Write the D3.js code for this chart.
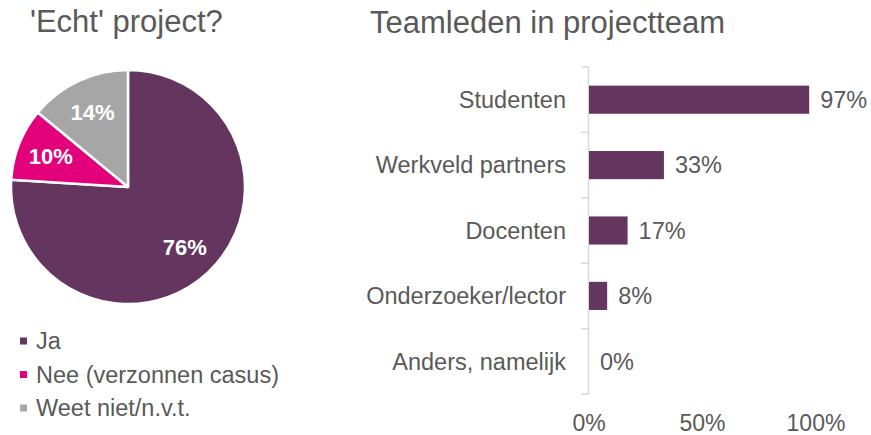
<!DOCTYPE html>
<html>
<head>
<meta charset="utf-8">
<script src="https://cdn.jsdelivr.net/npm/d3@7"></script>
<style>
  body { margin: 0; background: #fff; }
  svg { font-family: "Liberation Sans", Arial, sans-serif; }
</style>
</head>
<body>
<div id="container"></div>
<script>
const TEXT_COLOR = '#595959'
const PURPLE = '#64365f'

// pie: 'Echt' project?
const pieLabels = ['Ja', 'Nee (verzonnen casus)', 'Weet niet/n.v.t.']
const pieValues = [76, 10, 14]
const pieColors = [PURPLE, '#e3007b', '#a6a6a6']

// bars: Teamleden in projectteam
const barCategories = ['Studenten', 'Werkveld partners', 'Docenten', 'Onderzoeker/lector', 'Anders, namelijk']
const barValues = [97, 33, 17, 8, 0]
const xTicks = [0, 50, 100]

var width = 871
var height = 435

var svg = d3.select('#container').append('svg')
    .attr('width', width)
    .attr('height', height)

// ---- titles
svg.append('text')
    .attr('x', 30).attr('y', 32)
    .attr('fill', TEXT_COLOR)
    .style('font-size', '31px')
    .text("'Echt' project?")

svg.append('text')
    .attr('x', 370).attr('y', 33)
    .attr('fill', TEXT_COLOR)
    .style('font-size', '31px')
    .text('Teamleden in projectteam')

// ---- pie
var radius = 117
var pieG = svg.append('g').attr('transform', 'translate(128,187)')

var pie = d3.pie().sort(null).value(d => d)
var arcs = pie(pieValues)
var arc = d3.arc().innerRadius(0).outerRadius(radius)
var labelArc = d3.arc().innerRadius(radius * 0.71).outerRadius(radius * 0.71)

pieG.selectAll('path')
    .data(arcs)
    .enter().append('path')
    .attr('d', arc)
    .attr('fill', (d, i) => pieColors[i])
    .attr('stroke', '#fff')
    .attr('stroke-width', 2.5)
    .attr('stroke-linejoin', 'round')

pieG.selectAll('text')
    .data(arcs)
    .enter().append('text')
    .attr('transform', d => 'translate(' + labelArc.centroid(d) + ')')
    .attr('text-anchor', 'middle')
    .attr('dy', '0.35em')
    .attr('fill', '#fff')
    .style('font-size', '22px')
    .style('font-weight', 'bold')
    .text(d => d.data + '%')

// ---- legend
var legend = svg.append('g').attr('transform', 'translate(20,341)')
var legendItems = legend.selectAll('g')
    .data(pieLabels)
    .enter().append('g')
    .attr('transform', (d, i) => 'translate(0,' + i * 33.5 + ')')

legendItems.append('rect')
    .attr('x', 0).attr('y', -3.5)
    .attr('width', 7).attr('height', 7)
    .attr('fill', (d, i) => pieColors[i])

legendItems.append('text')
    .attr('x', 16).attr('dy', '0.35em')
    .attr('fill', TEXT_COLOR)
    .style('font-size', '23.5px')
    .text(d => d)

// ---- bars
var x = d3.scaleLinear().domain([0, 100]).range([589, 816])
var y = d3.scaleBand().domain(barCategories).range([67, 394]).paddingInner(0.57).paddingOuter(0.285)

var axisColor = '#d9d9d9'
var step = y.step()
var boundaries = d3.range(barCategories.length + 1).map(i => 67 + i * step)

svg.append('line')
    .attr('x1', x(0) - 0.5).attr('x2', x(0) - 0.5)
    .attr('y1', 67).attr('y2', 394)
    .attr('stroke', axisColor).attr('stroke-width', 1.5)

svg.selectAll('.ytick')
    .data(boundaries)
    .enter().append('line')
    .attr('class', 'ytick')
    .attr('x1', x(0) - 8).attr('x2', x(0))
    .attr('y1', d => d).attr('y2', d => d)
    .attr('stroke', axisColor).attr('stroke-width', 1.5)

svg.selectAll('.bar')
    .data(barValues)
    .enter().append('rect')
    .attr('class', 'bar')
    .attr('x', x(0))
    .attr('y', (d, i) => y(barCategories[i]))
    .attr('width', d => x(d) - x(0))
    .attr('height', y.bandwidth())
    .attr('fill', PURPLE)

svg.selectAll('.vlabel')
    .data(barValues)
    .enter().append('text')
    .attr('class', 'vlabel')
    .attr('x', d => x(d) + 11)
    .attr('y', (d, i) => y(barCategories[i]) + y.bandwidth() / 2)
    .attr('dy', '0.35em')
    .attr('fill', TEXT_COLOR)
    .style('font-size', '23.5px')
    .text(d => d + '%')

svg.selectAll('.cat')
    .data(barCategories)
    .enter().append('text')
    .attr('class', 'cat')
    .attr('x', 566)
    .attr('y', d => y(d) + y.bandwidth() / 2)
    .attr('dy', '0.35em')
    .attr('text-anchor', 'end')
    .attr('fill', TEXT_COLOR)
    .style('font-size', '23.5px')
    .text(d => d)

svg.selectAll('.xtick')
    .data(xTicks)
    .enter().append('text')
    .attr('class', 'xtick')
    .attr('x', d => x(d))
    .attr('y', 431)
    .attr('text-anchor', 'middle')
    .attr('fill', TEXT_COLOR)
    .style('font-size', '23px')
    .text(d => d + '%')
</script>
</body>
</html>
